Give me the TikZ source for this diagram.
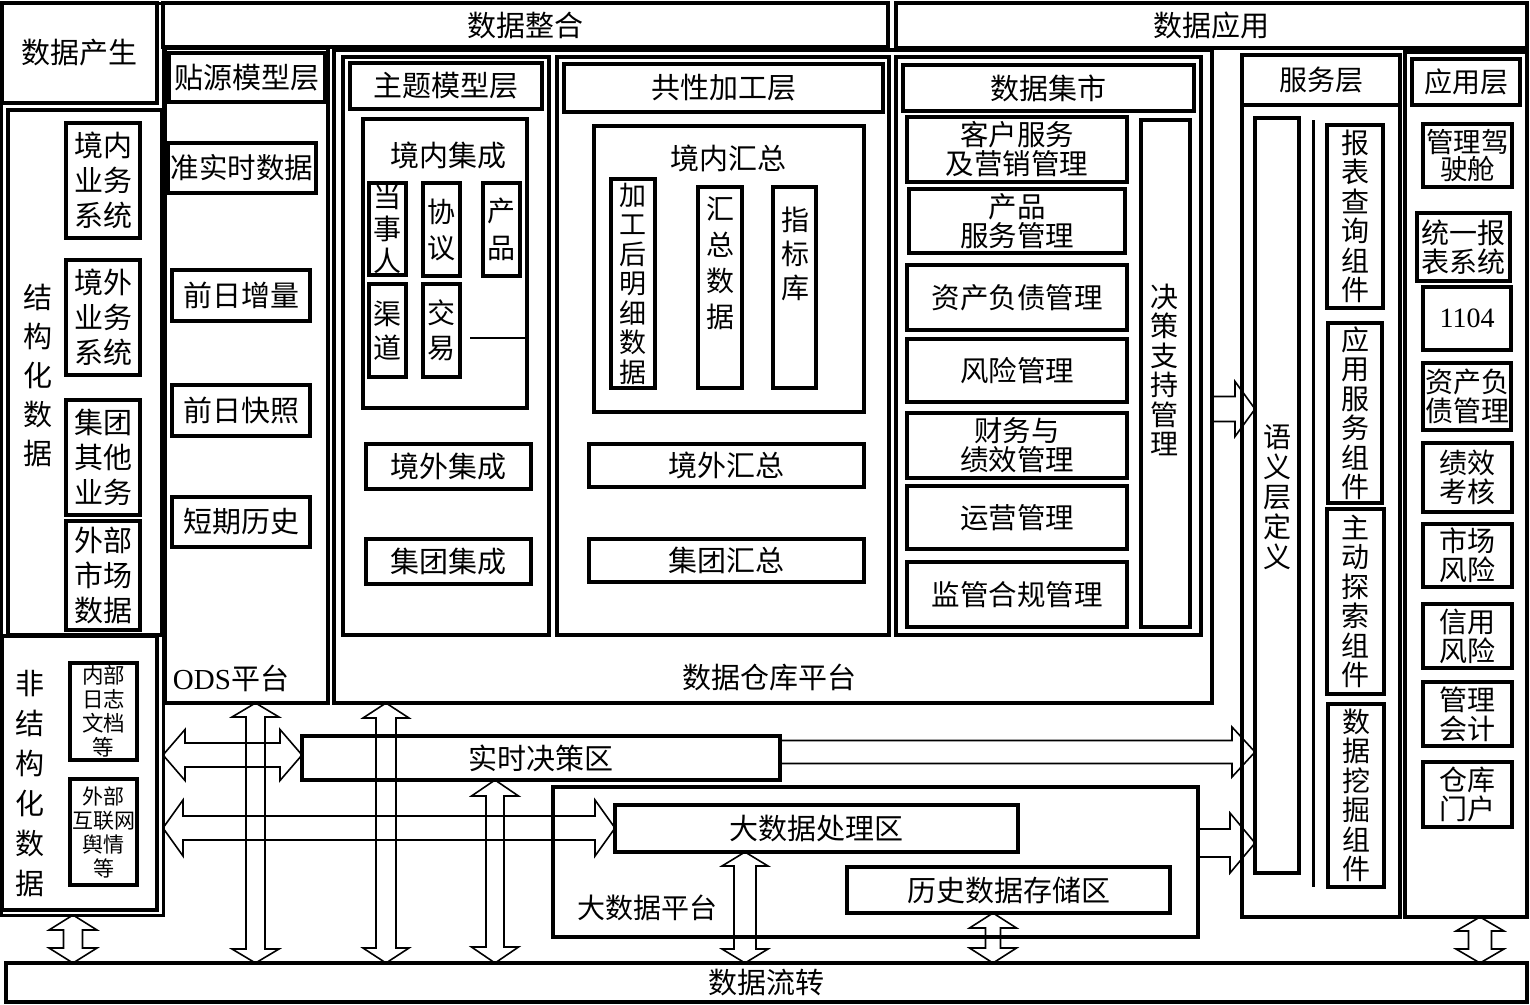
\documentclass[tikz,border=0pt]{standalone}
\usepackage{fontspec}
\setmainfont{Noto Sans CJK SC}
\newfontfamily\lat{Liberation Serif}
\usetikzlibrary{calc}
\newcommand\F[2]{\fontsize{#1}{#2}\selectfont}
\tikzset{
  box/.style={draw, line width=3.2pt, inner sep=0pt, outer sep=0pt, align=center, font=\F{29}{32}},
  item/.style={line width=3.8pt},
  lbl/.style={inner sep=0pt, outer sep=0pt, align=center, font=\F{29}{32}},
  barr/.style={draw, line width=1.6pt, line join=miter},
}
% box from corner (x1,y1) to (x2,y2) in pixel units
\newcommand{\bx}[7][]{\node[box,#1,minimum width={(#5-#3)*1pt},minimum height={(#6-#4)*1pt}] (#2) at ({(#3+#5)/2},{(#4+#6)/2}) {#7};}
% vertical double block arrow: x, top anchor, bottom anchor, shaft half, head half, head length
\newcommand{\vdarr}[6]{\draw[barr] let \p1=(#2), \p2=(#3) in
  (#1pt,\y1) -- ({#1pt+#5pt},{\y1-#6pt}) -- ({#1pt+#4pt},{\y1-#6pt}) -- ({#1pt+#4pt},{\y2+#6pt}) -- ({#1pt+#5pt},{\y2+#6pt}) -- (#1pt,\y2) -- ({#1pt-#5pt},{\y2+#6pt}) -- ({#1pt-#4pt},{\y2+#6pt}) -- ({#1pt-#4pt},{\y1-#6pt}) -- ({#1pt-#5pt},{\y1-#6pt}) -- cycle;}
% horizontal double block arrow: y, left anchor, right anchor, shaft half, head half, head length
\newcommand{\hdarr}[6]{\draw[barr] let \p1=(#2), \p2=(#3) in
  (\x1,-#1pt) -- ({\x1+#6pt},{-#1pt+#5pt}) -- ({\x1+#6pt},{-#1pt+#4pt}) -- ({\x2-#6pt},{-#1pt+#4pt}) -- ({\x2-#6pt},{-#1pt+#5pt}) -- (\x2,-#1pt) -- ({\x2-#6pt},{-#1pt-#5pt}) -- ({\x2-#6pt},{-#1pt-#4pt}) -- ({\x1+#6pt},{-#1pt-#4pt}) -- ({\x1+#6pt},{-#1pt-#5pt}) -- cycle;}
% horizontal single block arrow to the right
\newcommand{\hsarr}[6]{\draw[barr] let \p1=(#2), \p2=(#3) in
  (\x1,{-#1pt+#4pt}) -- ({\x2-#6pt},{-#1pt+#4pt}) -- ({\x2-#6pt},{-#1pt+#5pt}) -- (\x2,-#1pt) -- ({\x2-#6pt},{-#1pt-#5pt}) -- ({\x2-#6pt},{-#1pt-#4pt}) -- (\x1,{-#1pt-#4pt});}
\begin{document}
\begin{tikzpicture}[x=1pt,y=-1pt]
\useasboundingbox (0,0) rectangle (1530,1004);

% ---------- top bars ----------
\bx{gen}{2}{3}{157}{103}{数据产生}
\bx{integ}{163}{3}{888}{47}{数据整合}
\bx{appl}{896}{3}{1527}{48}{数据应用}

% ---------- data generation ----------
\bx[line width=3pt]{leftframe}{1}{3}{163}{915}{}
\bx{struct}{8}{110}{162}{635}{}
\node[lbl,font=\F{29}{39}] (structl) at (38,375) {结\\构\\化\\数\\据};
\bx[item,font=\F{29}{35}]{s1}{66}{123}{140}{238}{境内\\业务\\系统}
\bx[item,font=\F{29}{35}]{s2}{66}{260}{140}{375}{境外\\业务\\系统}
\bx[item,font=\F{29}{35}]{s3}{66}{400}{140}{515}{集团\\其他\\业务}
\bx[item,font=\F{29}{35}]{s4}{66}{521}{140}{630}{外部\\市场\\数据}
\bx{unstruct}{2}{636}{157}{910}{}
\node[lbl,font=\F{29}{40}] (unstructl) at (30,784) {非\\结\\构\\化\\数\\据};
\bx[item,font=\F{21.5}{24}]{u1}{70}{663}{137}{760}{内部\\日志\\文档\\等}
\bx[item,font=\F{21}{24}]{u2}{70}{779}{137}{885}{外部\\互联网\\舆情\\等}

% ---------- ODS ----------
\bx{ods}{165}{48}{328}{703}{}
\node[lbl] (odsl) at (231,678) {{\lat ODS}平台};
\bx{o0}{169}{53}{325}{102}{贴源模型层}
\bx[item,font=\F{28.5}{32}]{o1}{168}{143}{316}{193}{准实时数据}
\bx[item]{o2}{172}{270}{310}{321}{前日增量}
\bx[item]{o3}{172}{385}{310}{436}{前日快照}
\bx[item]{o4}{172}{497}{310}{547}{短期历史}

% ---------- data warehouse ----------
\bx{dw}{334}{50}{1212}{703}{}
\node[lbl] (dwl) at (769,677) {数据仓库平台};
\bx{topic}{343}{57}{549}{635}{}
\bx{topich}{350}{63}{542}{109}{主题模型层}
\bx{jnjc}{363}{119}{527}{408}{}
\node[lbl] (jnjcl) at (448,155) {境内集成};
\bx[item,font=\F{28}{32}]{t1}{369}{183}{406}{275}{当\\事\\人}
\bx[item,font=\F{28}{36}]{t2}{423}{183}{460}{276}{协\\议}
\bx[item,font=\F{28}{37}]{t3}{483}{183}{520}{276}{产\\品}
\bx[item,font=\F{28}{34}]{t4}{369}{284}{406}{377}{渠\\道}
\bx[item,font=\F{28}{35}]{t5}{423}{284}{460}{377}{交\\易}
\coordinate (tl) at (470,338);
\draw[line width=2.5pt] (tl) -- (tl -| jnjc.east);
\bx[item]{jwjc}{366}{444}{531}{489}{境外集成}
\bx[item]{jtjc}{366}{539}{531}{584}{集团集成}

\bx{common}{557}{57}{889}{635}{}
\bx{commonh}{564}{64}{883}{112}{共性加工层}
\bx{jnhz}{594}{126}{864}{412}{}
\node[lbl] (jnhzl) at (728,158) {境内汇总};
\bx[item,font=\F{27}{29.5}]{c1}{611}{179}{655}{388}{加\\工\\后\\明\\细\\数\\据}
\bx[item]{c2}{698}{187}{742}{388}{}
\node[lbl,font=\F{28}{36}] (c2l) at (720,263) {汇\\总\\数\\据};
\bx[item]{c3}{773}{187}{816}{388}{}
\node[lbl,font=\F{28}{34}] (c3l) at (795,254) {指\\标\\库};
\bx[item]{jwhz}{589}{444}{864}{487}{境外汇总}
\bx[item]{jthz}{589}{539}{864}{582}{集团汇总}

\bx{mart}{896}{57}{1201}{635}{}
\bx{marth}{903}{65}{1194}{111}{数据集市}
\bx[item,font=\F{28.5}{29}]{m1}{907}{117}{1127}{182}{客户服务\\及营销管理}
\bx[item,font=\F{28.5}{29}]{m2}{909}{189}{1125}{253}{产品\\服务管理}
\bx[item,font=\F{28.5}{29}]{m3}{907}{265}{1127}{330}{资产负债管理}
\bx[item,font=\F{28.5}{29}]{m4}{907}{339}{1127}{402}{风险管理}
\bx[item,font=\F{28.5}{29}]{m5}{907}{413}{1127}{478}{财务与\\绩效管理}
\bx[item,font=\F{28.5}{29}]{m6}{907}{486}{1127}{549}{运营管理}
\bx[item,font=\F{28.5}{29}]{m7}{907}{562}{1127}{627}{监管合规管理}
\bx[item]{m8}{1141}{120}{1190}{627}{}
\node[lbl,font=\F{28}{29.5}] (m8l) at (1164,370) {决\\策\\支\\持\\管\\理};

% ---------- service layer ----------
\bx{svc}{1242}{55}{1400}{917}{}
\bx[font=\F{28}{30}]{svch}{1242}{55}{1400}{105}{服务层}
\bx[item]{sem}{1255}{118}{1299}{873}{}
\node[lbl,font=\F{28}{30}] (seml) at (1277,497) {语\\义\\层\\定\\义};
\coordinate (vl1) at (1313,120);
\coordinate (vl2) at (1313,887);
\draw[line width=3pt] (vl1) -- (vl2);
\bx[item,font=\F{28}{29.5}]{k1}{1327}{125}{1383}{308}{报\\表\\查\\询\\组\\件}
\bx[item,font=\F{28}{29.5}]{k2}{1328}{323}{1382}{503}{应\\用\\服\\务\\组\\件}
\bx[item,font=\F{28}{29.5}]{k3}{1327}{509}{1384}{694}{主\\动\\探\\索\\组\\件}
\bx[item,font=\F{28}{29.5}]{k4}{1328}{704}{1384}{887}{数\\据\\挖\\掘\\组\\件}

% ---------- application layer ----------
\bx{app}{1405}{52}{1527}{917}{}
\bx[font=\F{28}{30}]{apph}{1412}{59}{1520}{105}{应用层}
\bx[item,font=\F{27.5}{27}]{a1}{1423}{124}{1512}{187}{管理驾\\驶舱}
\bx[item,font=\F{28}{29}]{a2}{1417}{213}{1510}{281}{统一报\\表系统}
\bx[item,font=\F{28}{30}]{a3}{1423}{287}{1511}{350}{{\lat 1104}}
\bx[item,font=\F{28}{29}]{a4}{1423}{363}{1511}{430}{资产负\\债管理}
\bx[item,font=\F{28}{29}]{a5}{1423}{443}{1512}{512}{绩效\\考核}
\bx[item,font=\F{28}{29}]{a6}{1423}{524}{1512}{587}{市场\\风险}
\bx[item,font=\F{28}{29}]{a7}{1423}{604}{1512}{668}{信用\\风险}
\bx[item,font=\F{28}{29}]{a8}{1423}{682}{1512}{746}{管理\\会计}
\bx[item,font=\F{28}{29}]{a9}{1423}{762}{1512}{827}{仓库\\门户}

% ---------- bottom ----------
\bx{rtd}{302}{736}{780}{780}{实时决策区}
\bx{bdp}{553}{787}{1198}{937}{}
\node[lbl,font=\F{28}{30}] (bdpl) at (647,908) {大数据平台};
\bx{bdproc}{615}{805}{1018}{852}{大数据处理区}
\bx{hist}{847}{867}{1170}{913}{历史数据存储区}
\bx{flow}{6}{963}{1527}{1002}{数据流转}

% ---------- block arrows ----------
\vdarr{73}{leftframe.south}{flow.north}{9.5}{24}{15}
\vdarr{255.5}{ods.south}{flow.north}{9.5}{23.5}{14}
\vdarr{386}{dw.south}{flow.north}{10}{23}{15}
\vdarr{495}{rtd.south}{flow.north}{9}{23.5}{16}
\vdarr{745}{bdproc.south}{flow.north}{11}{23}{14}
\vdarr{993}{hist.south}{flow.north}{7.5}{23.5}{15}
\vdarr{1480}{app.south}{flow.north}{11.5}{24}{14}
\hdarr{755}{leftframe.east}{rtd.west}{12}{25.5}{22}
\hdarr{828}{leftframe.east}{bdproc.west}{12}{28}{20}
\hsarr{752}{rtd.east}{sem.west}{11.5}{25}{23}
\hsarr{409}{dw.east}{sem.west}{12.5}{27.5}{20}
\hsarr{843}{bdp.east}{sem.west}{14}{30}{25}
\end{tikzpicture}
\end{document}
